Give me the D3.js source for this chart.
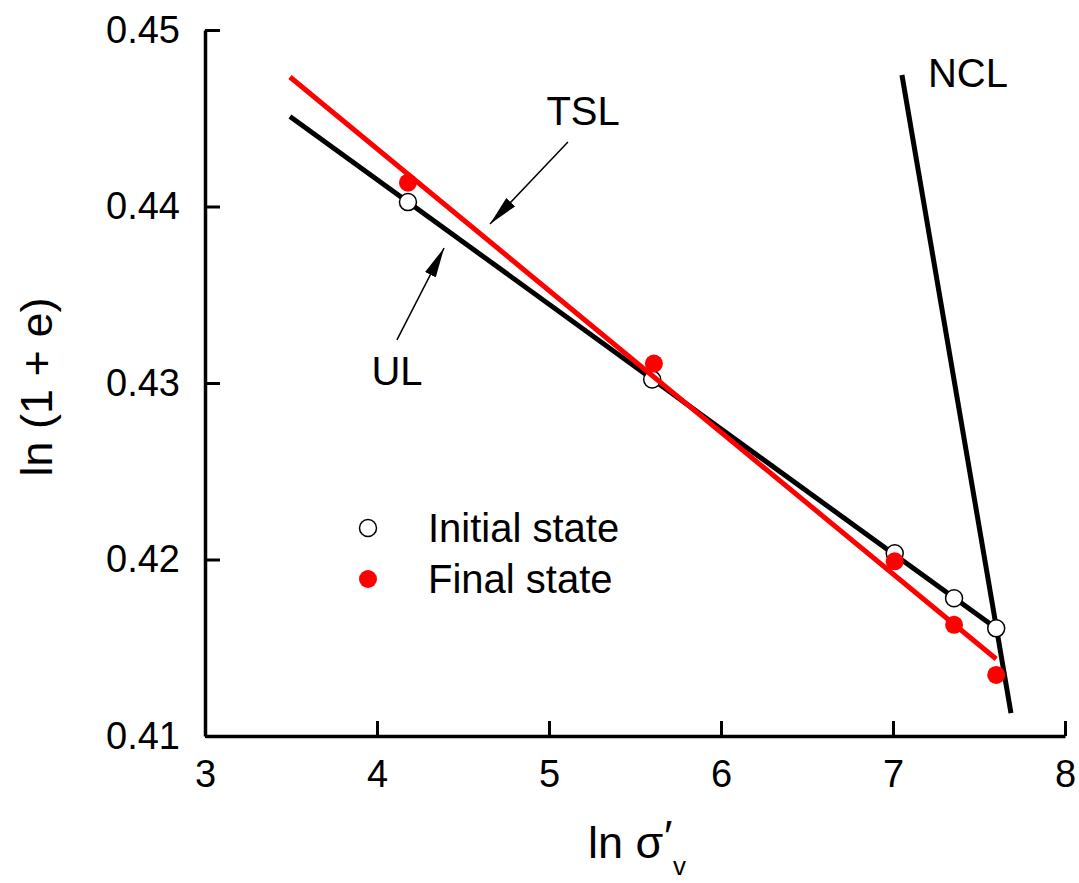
<!DOCTYPE html>
<html>
<head>
<meta charset="utf-8">
<script src="https://cdn.jsdelivr.net/npm/d3@7"></script>
<style>
  body { margin: 0; background: #fff; }
  text { font-family: Arial, "Liberation Sans", sans-serif; fill: #000; }
</style>
</head>
<body>
<svg id="chart" width="1079" height="883"></svg>
<script>
// ---- Data ----
const xTicks = [3, 4, 5, 6, 7, 8];
const yTicks = [0.41, 0.42, 0.43, 0.44, 0.45];
const yTickLabels = ["0.41", "0.42", "0.43", "0.44", "0.45"];

const initialX = [4.18, 5.60, 7.01, 7.355, 7.60];
const initialY = [0.44025, 0.43020, 0.42035, 0.41780, 0.41610];
const finalX   = [4.18, 5.61, 7.01, 7.355, 7.60];
const finalY   = [0.44135, 0.43110, 0.41990, 0.41630, 0.41346];

// fitted lines (endpoints)
const ulLineX  = [3.494, 7.60];
const ulLineY  = [0.44510, 0.41610];
const tslLineX = [3.494, 7.60];
const tslLineY = [0.44734, 0.41436];
const nclLineX = [7.052, 7.686];
const nclLineY = [0.44745, 0.41130];

// annotation labels and arrows
const labelText = ["TSL", "UL", "NCL"];
const labelX = [5.198, 4.116, 7.436];
const labelY = [0.44462, 0.42989, 0.44677];
const arrowFromX = [5.110, 4.116];
const arrowFromY = [0.44365, 0.43244];
const arrowToX   = [4.657, 4.390];
const arrowToY   = [0.43901, 0.43765];

const legendLabels = ["Initial state", "Final state"];

// ---- Layout ----
const svg = d3.select("#chart");
const x = d3.scaleLinear().domain([3, 8]).range([205, 1065]);
const y = d3.scaleLinear().domain([0.41, 0.45]).range([736, 30]);

// axes
const xAxis = d3.axisBottom(x).tickValues(xTicks).tickFormat(d3.format("d"))
  .tickSizeInner(-15).tickSizeOuter(0).tickPadding(24);
const yAxis = d3.axisLeft(y).tickValues(yTicks).tickFormat((d, i) => yTickLabels[i])
  .tickSizeInner(-15).tickSizeOuter(0).tickPadding(25);

const gx = svg.append("g").attr("transform", `translate(0,${y(0.41)})`).call(xAxis);
const gy = svg.append("g").attr("transform", `translate(${x(3)},0)`).call(yAxis);
[gx, gy].forEach(g => {
  g.select(".domain").attr("stroke", "#000").attr("stroke-width", 3.5);
  g.selectAll(".tick line").attr("stroke", "#000").attr("stroke-width", 3);
  g.selectAll(".tick text").style("font-size", "38px")
    .style("font-family", "Arial, 'Liberation Sans', sans-serif").attr("fill", "#000");
});
gx.selectAll(".tick text").attr("dy", "0.71em");
gy.selectAll(".tick text").attr("dy", "0.32em");

// lines
const line = d3.line().x(d => x(d[0])).y(d => y(d[1]));
const zip = (a, b) => a.map((v, i) => [v, b[i]]);

svg.append("path").datum(zip(ulLineX, ulLineY)).attr("d", line)
  .attr("fill", "none").attr("stroke", "#000").attr("stroke-width", 5);
svg.append("path").datum(zip(nclLineX, nclLineY)).attr("d", line)
  .attr("fill", "none").attr("stroke", "#000").attr("stroke-width", 5);

svg.append("g").selectAll("circle").data(zip(initialX, initialY)).join("circle")
  .attr("cx", d => x(d[0])).attr("cy", d => y(d[1])).attr("r", 8.5)
  .attr("fill", "#fff").attr("stroke", "#000").attr("stroke-width", 1.5);

svg.append("path").datum(zip(tslLineX, tslLineY)).attr("d", line)
  .attr("fill", "none").attr("stroke", "#ff0000").attr("stroke-width", 5);

svg.append("g").selectAll("circle").data(zip(finalX, finalY)).join("circle")
  .attr("cx", d => x(d[0])).attr("cy", d => y(d[1])).attr("r", 9)
  .attr("fill", "#ff0000");

// arrows
const defs = svg.append("defs");
defs.append("marker").attr("id", "arrowhead")
  .attr("viewBox", "0 0 30 12").attr("refX", 30).attr("refY", 6)
  .attr("markerWidth", 30).attr("markerHeight", 12)
  .attr("markerUnits", "userSpaceOnUse").attr("orient", "auto")
  .append("path").attr("d", "M0,0 L30,6 L0,12 Z").attr("fill", "#000");

arrowFromX.forEach((fx, i) => {
  svg.append("line")
    .attr("x1", x(fx)).attr("y1", y(arrowFromY[i]))
    .attr("x2", x(arrowToX[i])).attr("y2", y(arrowToY[i]))
    .attr("stroke", "#000").attr("stroke-width", 1.5)
    .attr("marker-end", "url(#arrowhead)");
});

// labels
labelText.forEach((t, i) => {
  svg.append("text").attr("x", x(labelX[i])).attr("y", y(labelY[i]))
    .attr("text-anchor", "middle").style("font-size", "40px").text(t);
});

// legend
const legY = [528, 579];
svg.append("circle").attr("cx", 368).attr("cy", legY[0]).attr("r", 8.5)
  .attr("fill", "#fff").attr("stroke", "#000").attr("stroke-width", 1.5);
svg.append("circle").attr("cx", 368).attr("cy", legY[1]).attr("r", 9)
  .attr("fill", "#ff0000");
legendLabels.forEach((t, i) => {
  svg.append("text").attr("x", 428).attr("y", legY[i] + 14)
    .style("font-size", "40px").text(t);
});

// axis titles
svg.append("text")
  .attr("transform", "translate(52,387) rotate(-90)")
  .attr("text-anchor", "middle").style("font-size", "45px").text("ln (1 + e)");

svg.append("text").attr("x", 588).attr("y", 858).style("font-size", "45px").text("ln σ");
svg.append("text").attr("x", 664).attr("y", 852).style("font-size", "45px").text("′");
svg.append("text").attr("x", 673).attr("y", 875).style("font-size", "26px").text("v");
</script>
</body>
</html>
